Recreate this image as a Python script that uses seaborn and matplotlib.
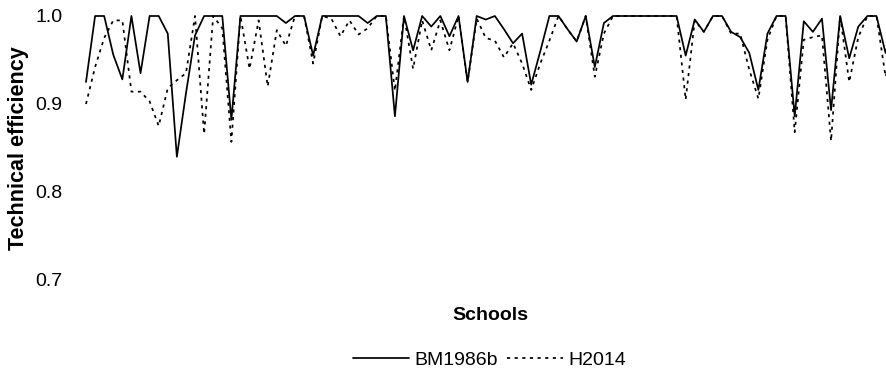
import matplotlib

matplotlib.use("Agg", force=True)
import matplotlib.pyplot as plt
import pandas as pd
import seaborn as sns

# technical efficiency per school
bm1986b = [
    0.925, 1.0, 1.0, 0.956, 0.928, 1.0, 0.935, 1.0, 1.0, 0.98,
    0.84, 0.912, 0.978, 1.0, 1.0, 1.0, 0.882, 1.0, 1.0, 1.0,
    1.0, 1.0, 0.992, 1.0, 1.0, 0.955, 1.0, 1.0, 1.0, 1.0,
    1.0, 0.992, 1.0, 1.0, 0.886, 1.0, 0.961, 1.0, 0.988, 1.0,
    0.977, 1.0, 0.925, 1.0, 0.996, 1.0, 0.985, 0.969, 0.98, 0.922,
    0.96, 1.0, 1.0, 0.985, 0.971, 1.0, 0.942, 0.992, 1.0, 1.0,
    1.0, 1.0, 1.0, 1.0, 1.0, 1.0, 0.955, 0.996, 0.982, 1.0,
    1.0, 0.982, 0.976, 0.958, 0.916, 0.98, 1.0, 1.0, 0.886, 0.994,
    0.982, 0.997, 0.893, 1.0, 0.952, 0.988, 1.0, 1.0, 0.958, 0.995,
]
h2014 = [
    0.90, 0.942, 0.975, 0.995, 0.995, 0.914, 0.914, 0.903, 0.875, 0.918,
    0.927, 0.935, 1.0, 0.866, 1.0, 0.986, 0.857, 1.0, 0.94, 0.995,
    0.92, 0.984, 0.966, 1.0, 1.0, 0.946, 1.0, 0.997, 0.977, 0.995,
    0.979, 0.986, 1.0, 1.0, 0.915, 1.0, 0.94, 0.995, 0.961, 0.995,
    0.961, 1.0, 0.925, 0.997, 0.975, 0.972, 0.953, 0.969, 0.946, 0.916,
    0.946, 0.972, 1.0, 0.985, 0.971, 1.0, 0.931, 0.98, 1.0, 1.0,
    1.0, 1.0, 1.0, 1.0, 1.0, 1.0, 0.905, 0.995, 0.982, 1.0,
    1.0, 0.98, 0.98, 0.939, 0.906, 0.973, 1.0, 1.0, 0.868, 0.973,
    0.976, 0.978, 0.858, 1.0, 0.925, 0.976, 1.0, 1.0, 0.931, 0.97,
]
schools = list(range(1, len(bm1986b) + 1))
y_ticks = [0.7, 0.8, 0.9, 1.0]
y_tick_labels = ["0.7", "0.8", "0.9", "1.0"]
models = ["BM1986b", "H2014"]


def build_frame() -> pd.DataFrame:
    frames = []
    for name, values in zip(models, [bm1986b, h2014]):
        frames.append(pd.DataFrame({"school": schools, "te": values, "model": name}))
    return pd.concat(frames, ignore_index=True)


def main() -> None:
    sns.set_theme(style="white")
    plt.rcParams["font.family"] = ["Liberation Sans", "DejaVu Sans"]
    plt.rcParams["font.size"] = 14
    plt.rcParams["text.color"] = "black"
    plt.rcParams["ytick.color"] = "black"

    df = build_frame()
    fig = plt.figure(figsize=(8.87, 3.84), dpi=100)
    ax = fig.add_axes([86 / 887, 1 - 280 / 384, 1 - 86 / 887, 264 / 384])

    sns.lineplot(
        data=df,
        x="school",
        y="te",
        style="model",
        dashes={"BM1986b": "", "H2014": (1.8, 2.6)},
        color="black",
        linewidth=1.25,
        ax=ax,
        legend=True,
    )
    for line in ax.get_lines():
        line.set_clip_on(False)

    ax.set_xlim(1, 1 + 801 / 9.086)
    ax.set_ylim(0.7, 1.0)
    ax.set_xticks([])
    ax.set_yticks(y_ticks)
    ax.set_yticklabels(y_tick_labels, fontsize=14, color="black")
    ax.tick_params(axis="y", length=0, pad=17)
    sns.despine(ax=ax, left=True, bottom=True)
    ax.set_xlabel("")
    ax.set_ylabel("")

    fig.text(18.5 / 887, 1 - 148 / 384, "Technical efficiency", rotation=90,
             ha="center", va="center", fontsize=15.5, weight="bold", color="black")
    fig.text(490 / 887, 1 - 315 / 384, "Schools", ha="center", va="center",
             fontsize=14, weight="bold", color="black")

    handles, labels = ax.get_legend_handles_labels()
    ax.get_legend().remove()
    fig.legend(handles, labels, loc="center", bbox_to_anchor=(489.5 / 887, 1 - 360 / 384),
               ncol=2, frameon=False, fontsize=14, handlelength=2.9,
               handletextpad=0.27, columnspacing=0.46, labelcolor="black")

    fig.savefig("out.png", dpi=100, facecolor="white")
    plt.close(fig)


if __name__ == "__main__":
    main()
